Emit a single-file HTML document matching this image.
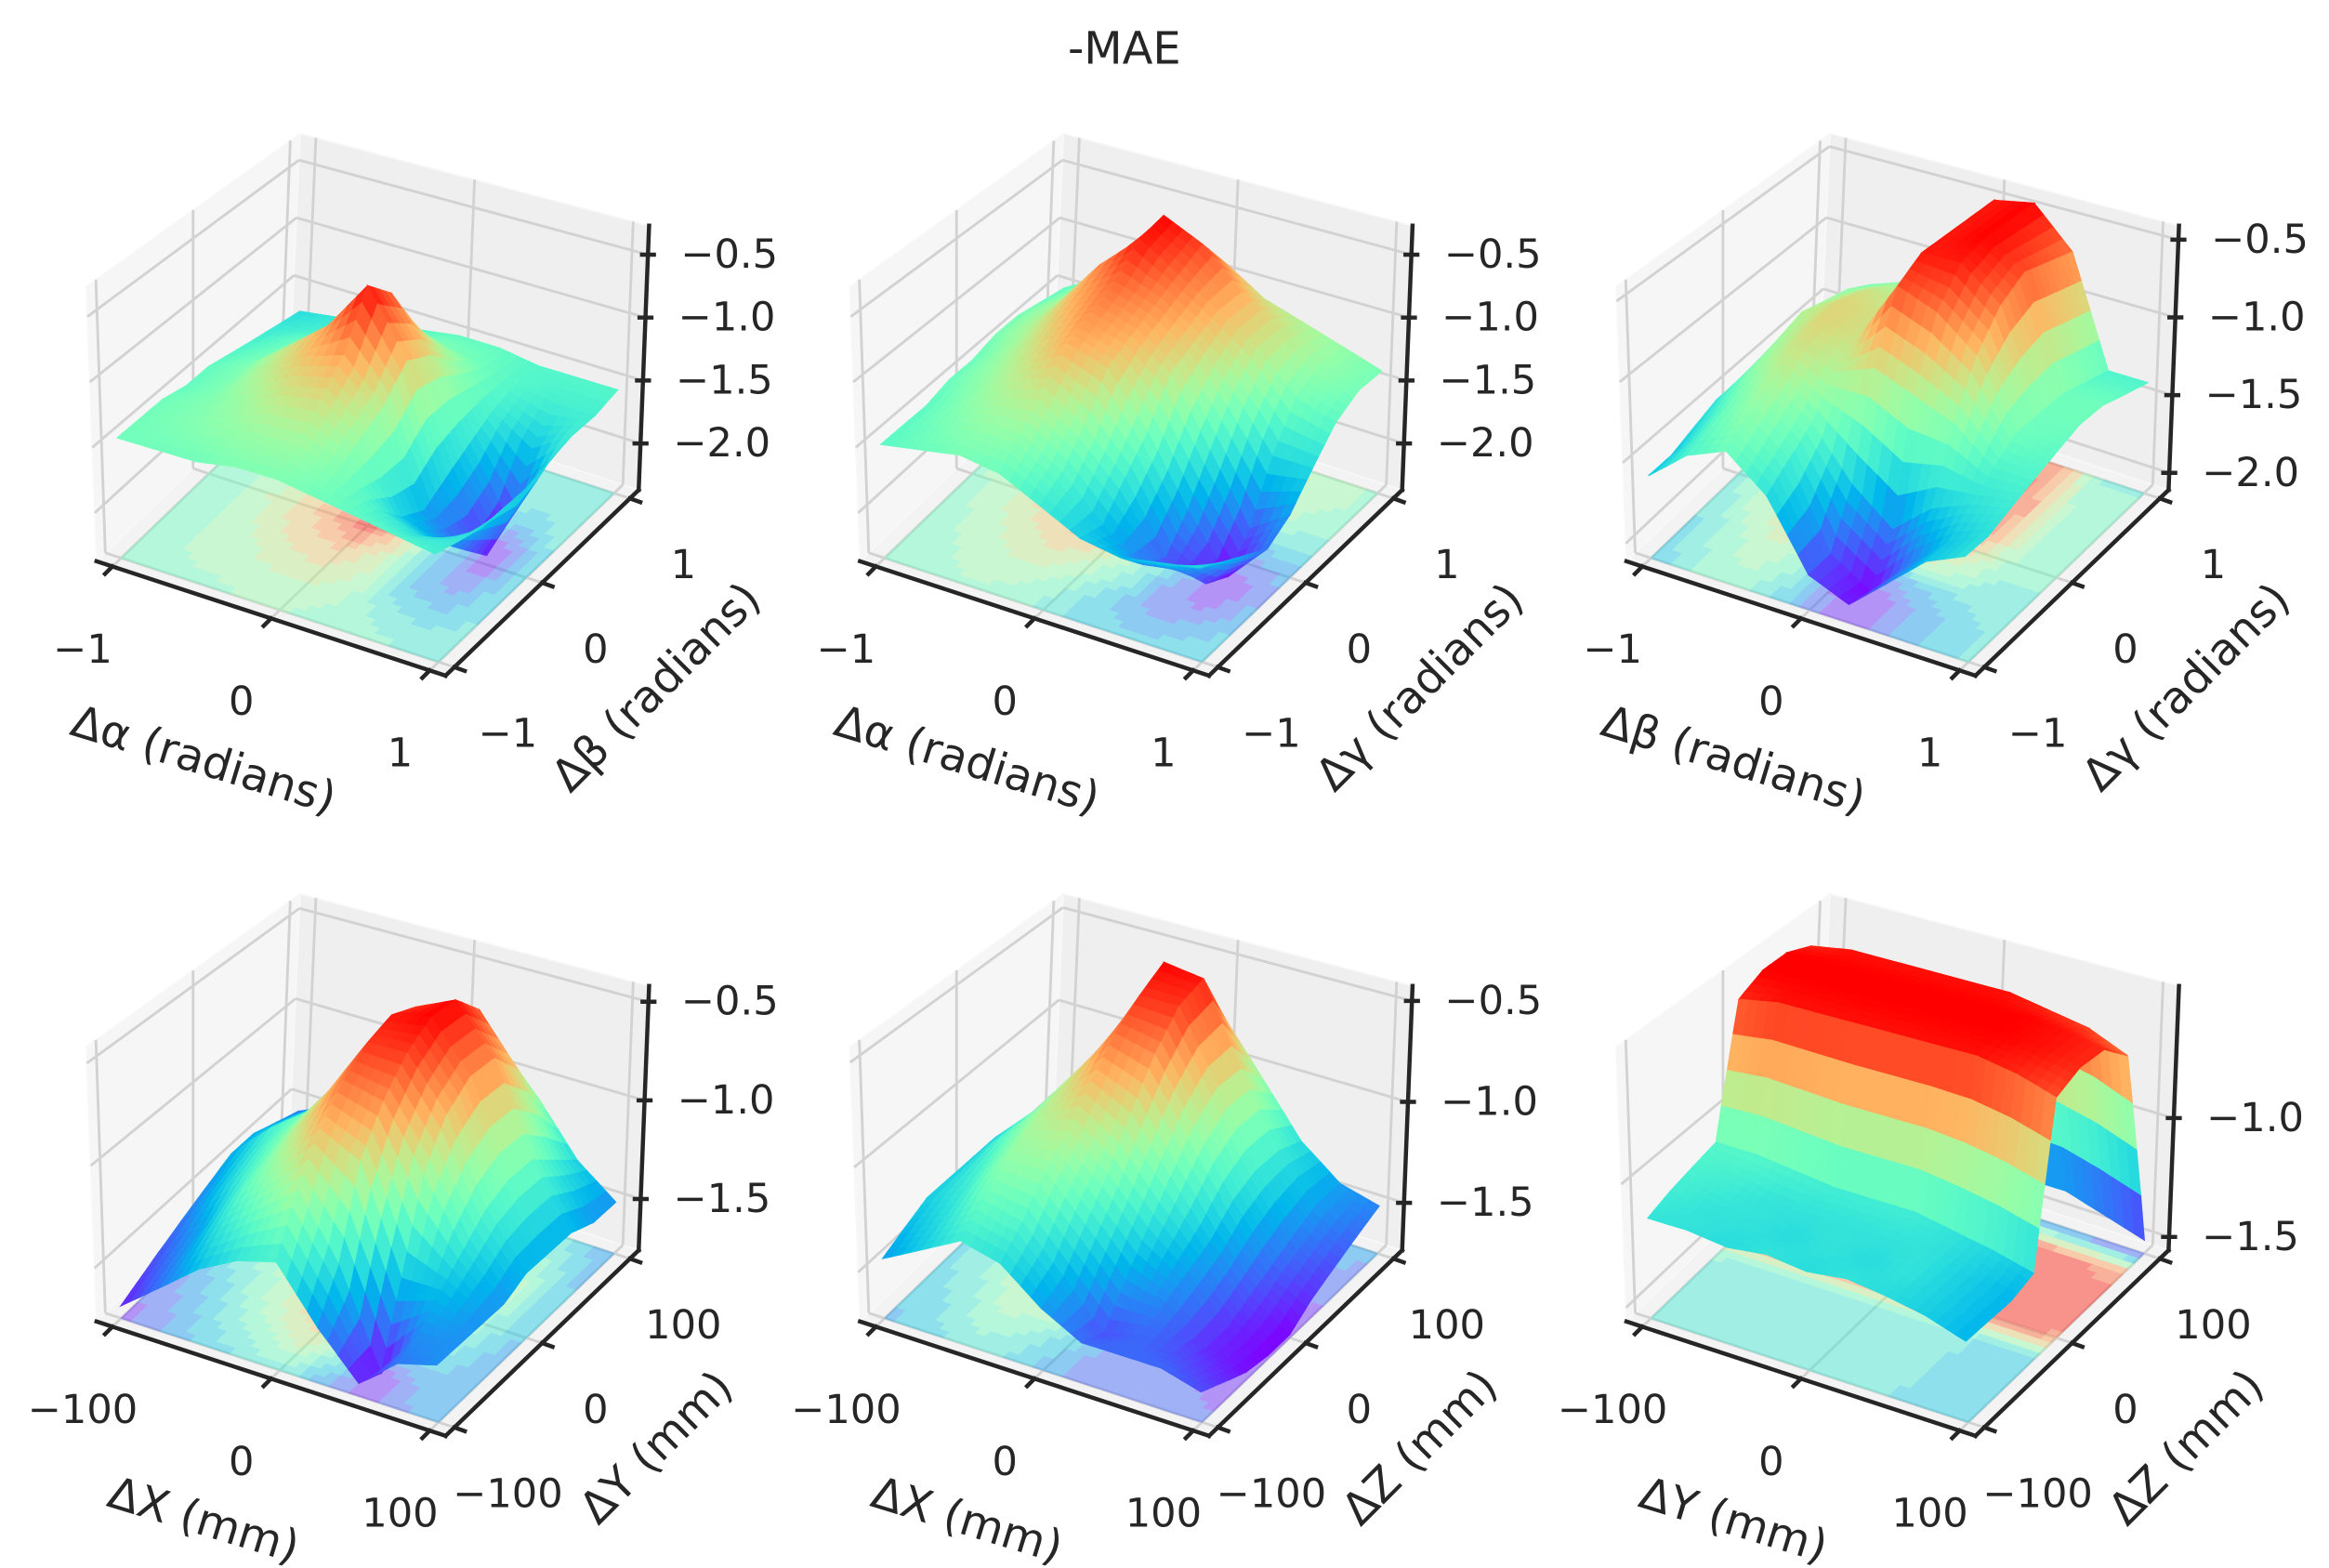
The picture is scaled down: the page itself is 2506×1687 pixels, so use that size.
<!DOCTYPE html>
<html><head><meta charset="utf-8"><title>-MAE surfaces</title>
<style>html,body{margin:0;padding:0;background:#fff;}svg{display:block;}text{font-family:"DejaVu Sans","Liberation Sans",sans-serif;fill:#262626;}</style>
</head><body>
<svg id="fig" xmlns="http://www.w3.org/2000/svg" width="2506" height="1687" viewBox="0 0 1568 1056" preserveAspectRatio="none">
<rect x="0" y="0" width="1568" height="1056" fill="#ffffff"/>
<text x="757" y="43" font-size="30" text-anchor="middle">-MAE</text>
</svg>
<script>
// ---- data ----
const angleTickLabels = ['\u22121','0','1'];
const mmTickLabels = ['\u2212100','0','100'];
const tickVals = [-1, 0, 1];
const zTicksA = [-0.5,-1.0,-1.5,-2.0];
const zTicksB = [-0.5,-1.0,-1.5,-2.0];
const zTicksC = [-0.5,-1.0,-1.5,-2.0];
const zTicksD = [-0.5,-1.0,-1.5];
const zTicksE = [-0.5,-1.0,-1.5];
const zTicksF = [-1.0,-1.5];
const zLimits = [[-2.37,-0.27],[-2.37,-0.27],[-2.11,-0.41],[-1.76,-0.42],[-1.735,-0.426],[-1.556,-0.444]];
const xLabels = ['\u0394\u03b1 (radians)','\u0394\u03b1 (radians)','\u0394\u03b2 (radians)','\u0394X (mm)','\u0394X (mm)','\u0394Y (mm)'];
const yLabels = ['\u0394\u03b2 (radians)','\u0394\u03b3 (radians)','\u0394\u03b3 (radians)','\u0394Y (mm)','\u0394Z (mm)','\u0394Z (mm)'];
// surfaces: rows = y (front→back), cols = x (left→right)
const surfA = [
[-1.45,-1.45,-1.45,-1.4,-1.4,-1.45,-1.5,-1.55,-1.6],
[-1.45,-1.4,-1.35,-1.3,-1.3,-1.4,-1.6,-1.7,-1.65],
[-1.45,-1.4,-1.3,-1.15,-1.1,-1.3,-1.8,-1.9,-1.7],
[-1.5,-1.4,-1.2,-1.0,-0.9,-1.2,-1.9,-2.1,-1.7],
[-1.5,-1.4,-1.15,-0.9,-0.5,-1.0,-1.8,-2.3,-1.7],
[-1.55,-1.45,-1.25,-1.0,-0.7,-1.1,-1.7,-2.2,-1.65],
[-1.6,-1.5,-1.4,-1.25,-1.1,-1.3,-1.6,-1.8,-1.6],
[-1.65,-1.6,-1.55,-1.45,-1.4,-1.45,-1.55,-1.6,-1.6],
[-1.7,-1.65,-1.6,-1.55,-1.5,-1.5,-1.55,-1.55,-1.55]];
const surfB = [
[-1.5,-1.45,-1.4,-1.45,-1.6,-1.75,-1.8,-1.75,-1.7],
[-1.5,-1.4,-1.3,-1.3,-1.5,-1.8,-2.0,-1.95,-1.8],
[-1.5,-1.35,-1.2,-1.1,-1.3,-1.6,-2.1,-2.2,-1.9],
[-1.45,-1.3,-1.1,-0.9,-1.0,-1.4,-1.9,-2.3,-2.0],
[-1.45,-1.25,-1.0,-0.8,-0.9,-1.1,-1.6,-2.1,-1.9],
[-1.4,-1.2,-0.9,-0.7,-0.8,-1.0,-1.3,-1.7,-1.7],
[-1.4,-1.2,-0.8,-0.5,-0.7,-0.9,-1.1,-1.4,-1.5],
[-1.45,-1.25,-0.9,-0.45,-0.6,-0.9,-1.1,-1.3,-1.4],
[-1.5,-1.3,-1.1,-0.8,-0.9,-1.1,-1.2,-1.3,-1.4]];
const surfC = [
[-1.6,-1.4,-1.3,-1.5,-1.9,-2.0,-1.8,-1.6,-1.5],
[-1.6,-1.35,-1.2,-1.4,-1.9,-2.05,-1.8,-1.6,-1.5],
[-1.55,-1.3,-1.1,-1.3,-1.6,-1.8,-1.6,-1.5,-1.45],
[-1.5,-1.2,-1.0,-1.1,-1.0,-1.1,-1.2,-1.4,-1.4],
[-1.5,-1.15,-0.95,-1.0,-0.6,-0.7,-0.9,-1.3,-1.35],
[-1.5,-1.1,-0.95,-1.0,-0.5,-0.5,-0.7,-1.3,-1.3],
[-1.55,-1.15,-1.0,-1.05,-0.5,-0.45,-0.6,-1.3,-1.3],
[-1.6,-1.2,-1.1,-1.1,-0.5,-0.45,-0.65,-1.35,-1.35],
[-1.6,-1.3,-1.2,-1.2,-0.5,-0.45,-0.7,-1.4,-1.4]];
const surfD = [
[-1.7,-1.55,-1.4,-1.3,-1.25,-1.5,-1.7,-1.55,-1.5],
[-1.65,-1.5,-1.3,-1.15,-1.0,-1.3,-1.75,-1.5,-1.5],
[-1.6,-1.45,-1.2,-1.0,-0.8,-0.9,-1.4,-1.4,-1.5],
[-1.55,-1.35,-1.15,-0.9,-0.65,-0.7,-1.0,-1.3,-1.5],
[-1.5,-1.3,-1.1,-0.85,-0.55,-0.55,-0.8,-1.2,-1.45],
[-1.45,-1.25,-1.1,-0.9,-0.5,-0.46,-0.7,-1.15,-1.45],
[-1.45,-1.3,-1.15,-0.95,-0.55,-0.46,-0.7,-1.15,-1.45],
[-1.5,-1.35,-1.25,-1.1,-0.75,-0.6,-0.85,-1.25,-1.5],
[-1.55,-1.45,-1.35,-1.25,-1.0,-0.9,-1.1,-1.35,-1.5]];
const surfE = [
[-1.45,-1.35,-1.25,-1.3,-1.45,-1.55,-1.55,-1.55,-1.6],
[-1.4,-1.3,-1.15,-1.2,-1.4,-1.6,-1.55,-1.6,-1.65],
[-1.35,-1.25,-1.05,-1.05,-1.25,-1.45,-1.5,-1.65,-1.7],
[-1.35,-1.2,-1.0,-0.95,-1.1,-1.3,-1.45,-1.65,-1.72],
[-1.35,-1.15,-0.95,-0.8,-0.9,-1.15,-1.4,-1.6,-1.72],
[-1.35,-1.15,-0.9,-0.65,-0.7,-1.0,-1.3,-1.55,-1.65],
[-1.4,-1.2,-0.9,-0.55,-0.55,-0.9,-1.25,-1.5,-1.6],
[-1.4,-1.2,-0.95,-0.47,-0.5,-0.9,-1.25,-1.45,-1.55],
[-1.45,-1.3,-1.1,-0.8,-0.8,-1.05,-1.3,-1.45,-1.5]];
const surfF = [
[-1.15,-1.15,-1.17,-1.15,-1.17,-1.15,-1.17,-1.2,-1.25],
[-1.12,-1.15,-1.15,-1.17,-1.15,-1.17,-1.15,-1.2,-1.25],
[-1.1,-1.12,-1.15,-1.15,-1.15,-1.15,-1.15,-1.2,-1.25],
[-1.08,-1.08,-1.1,-1.12,-1.12,-1.12,-1.15,-1.18,-1.22],
[-0.55,-0.52,-0.52,-0.52,-0.52,-0.52,-0.52,-0.55,-0.6],
[-0.5,-0.5,-0.5,-0.5,-0.5,-0.5,-0.5,-0.52,-0.55],
[-0.5,-0.5,-0.5,-0.5,-0.5,-0.5,-0.5,-0.52,-0.55],
[-0.55,-0.52,-0.52,-0.52,-0.52,-0.52,-0.55,-0.58,-0.65],
[-1.25,-1.3,-1.3,-1.35,-1.35,-1.4,-1.4,-1.45,-1.5]];

// ---- rendering ----
const NS = 'http://www.w3.org/2000/svg';
const svg = document.getElementById('fig');
const panels = [
 {col:0,row:0,z:surfA,zt:zTicksA,tl:angleTickLabels},
 {col:1,row:0,z:surfB,zt:zTicksB,tl:angleTickLabels},
 {col:2,row:0,z:surfC,zt:zTicksC,tl:angleTickLabels},
 {col:0,row:1,z:surfD,zt:zTicksD,tl:mmTickLabels},
 {col:1,row:1,z:surfE,zt:zTicksE,tl:mmTickLabels},
 {col:2,row:1,z:surfF,zt:zTicksF,tl:mmTickLabels}];
const COLX=[0,514,1030], ROWY=[0,512];
function cmap(t){t=Math.max(0,Math.min(1,t));
 const r=Math.min(1,Math.abs(2*t-0.5)), g=Math.sin(Math.PI*t), b=Math.cos(Math.PI*t/2);
 return 'rgb('+Math.round(r*255)+','+Math.round(g*255)+','+Math.round(b*255)+')';}
function mk(tag, parent){const e=document.createElementNS(NS,tag);parent.appendChild(e);return e;}
function axisN(v){return (v+1.1)/2.2;}

panels.forEach((p,k)=>{
 const ox=65+COLX[p.col], oy=378+ROWY[p.row];
 const [zlo,zhi]=zLimits[k];
 const zn=z=>(z-zlo)/(zhi-zlo);
 function P(x,y,h){
  return [ox + x*235 + y*130 + h*(-7+14*y), oy + x*77 - y*125 - h*(185+15*x-22*y)];}
 const pts=a=>a.map(q=>q[0].toFixed(1)+','+q[1].toFixed(1)).join(' ');
 const g=mk('g',svg);
 
 
 const panes=[[[0,0,0],[1,0,0],[1,1,0],[0,1,0],'#f3f3f3','floor-pane'],
   [[0,0,0],[0,1,0],[0,1,1],[0,0,1],'#f6f6f6','left-pane'],
   [[0,1,0],[1,1,0],[1,1,1],[0,1,1],'#efefef','back-pane']];
 panes.forEach(pn=>{const e=mk('polygon',g);
  
  
  e.setAttribute('points',pts(pn.slice(0,4).map(c=>P(c[0],c[1],c[2]))));
  e.setAttribute('fill',pn[4]);e.setAttribute('stroke','#f8f8f8');e.setAttribute('stroke-width','1');});
 const gl=(a,b)=>{const e=mk('line',g);
  
  
  e.setAttribute('x1',a[0]);e.setAttribute('y1',a[1]);e.setAttribute('x2',b[0]);e.setAttribute('y2',b[1]);
  e.setAttribute('stroke','#d2d2d2');e.setAttribute('stroke-width','1.8');};
 tickVals.forEach(v=>{const t=axisN(v);
  gl(P(t,0,0),P(t,1,0)); gl(P(t,1,0),P(t,1,1));
  gl(P(0,t,0),P(1,t,0)); gl(P(0,t,0),P(0,t,1));});
 p.zt.forEach(v=>{const h=zn(v); gl(P(0,0,h),P(0,1,h)); gl(P(0,1,h),P(1,1,h));});
 const Z=p.z, N=Z.length, S=4, M=(N-1)*S;
 let zmin=Infinity,zmax=-Infinity; Z.forEach(r=>r.forEach(v=>{zmin=Math.min(zmin,v);zmax=Math.max(zmax,v);}));
 const F=[];
 for(let fj=0;fj<=M;fj++){F.push([]);for(let fi=0;fi<=M;fi++){
  const u=fi/S,w=fj/S; const i0=Math.min(N-2,Math.floor(u)), j0=Math.min(N-2,Math.floor(w));
  const a=u-i0,b=w-j0;
  F[fj].push((1-a)*(1-b)*Z[j0][i0]+a*(1-b)*Z[j0][i0+1]+(1-a)*b*Z[j0+1][i0]+a*b*Z[j0+1][i0+1]);}}
 const gx=fi=>axisN(-1+2*fi/M);
 const cells=[];
 for(let fj=0;fj<M;fj++)for(let fi=0;fi<M;fi++){
  const xc=gx(fi+0.5), yc=axisN(-1+2*(fj+0.5)/M);
  cells.push({fi,fj,d:yc*0.866-xc*0.5});}
 cells.sort((a,b)=>b.d-a.d);
 const fg=mk('g',g);
 
 
 fg.setAttribute('opacity','0.45');
 const LV=12;
 cells.forEach(c=>{const {fi,fj}=c;
  const avg=(F[fj][fi]+F[fj][fi+1]+F[fj+1][fi]+F[fj+1][fi+1])/4;
  const lev=Math.min(LV-1,Math.floor((avg-zmin)/(zmax-zmin)*LV));
  const col=cmap((lev+0.5)/LV);
  const e=mk('polygon',fg);
  
  
  const y0=axisN(-1+2*fj/M), y1=axisN(-1+2*(fj+1)/M);
  e.setAttribute('points',pts([P(gx(fi),y0,0),P(gx(fi+1),y0,0),P(gx(fi+1),y1,0),P(gx(fi),y1,0)]));
  e.setAttribute('fill',col);e.setAttribute('stroke',col);e.setAttribute('stroke-width','0.8');});
 const sg=mk('g',g);
 
 
 cells.forEach(c=>{const {fi,fj}=c;
  const avg=(F[fj][fi]+F[fj][fi+1]+F[fj+1][fi]+F[fj+1][fi+1])/4;
  const col=cmap((avg-zmin)/(zmax-zmin));
  const y0=axisN(-1+2*fj/M), y1=axisN(-1+2*(fj+1)/M);
  const e=mk('polygon',sg);
  
  
  e.setAttribute('points',pts([P(gx(fi),y0,zn(F[fj][fi])),P(gx(fi+1),y0,zn(F[fj][fi+1])),P(gx(fi+1),y1,zn(F[fj+1][fi+1])),P(gx(fi),y1,zn(F[fj+1][fi]))]));
  e.setAttribute('fill',col);e.setAttribute('stroke',col);e.setAttribute('stroke-width','0.7');});
 const al=(a,b,name)=>{const e=mk('line',g);
  
  
  e.setAttribute('x1',a[0]);e.setAttribute('y1',a[1]);e.setAttribute('x2',b[0]);e.setAttribute('y2',b[1]);
  e.setAttribute('stroke','#262626');e.setAttribute('stroke-width','2.8');e.setAttribute('stroke-linecap','square');};
 al(P(0,0,0),P(1,0,0),'x-axis-line');
 al(P(1,0,0),P(1,1,0),'y-axis-line');
 al(P(1,1,0),P(1,1,1),'z-axis-line');
 const txt=(s,x,y,anchor,name,size,rot)=>{const e=mk('text',g);
  
  
  e.setAttribute('x',x);e.setAttribute('y',y);e.setAttribute('text-anchor',anchor);
  e.setAttribute('font-size',size);e.setAttribute('dominant-baseline','central');
  if(rot)e.setAttribute('transform','rotate('+rot+' '+x+' '+y+')');
  e.textContent=s;};
 tickVals.forEach((v,i)=>{const t=axisN(v);
  const a=P(t,0,0); al(a,[a[0]-5,a[1]+5],'x-tick');
  txt(p.tl[i],a[0]-20,a[1]+56,'middle','x-tick-label',27);
  const b=P(1,t,0); al(b,[b[0]+7,b[1]+2.5],'y-tick');
  txt(p.tl[i],b[0]+36,b[1]+45,'middle','y-tick-label',27);});
 p.zt.forEach(v=>{const c=P(1,1,zn(v)); al([c[0]-4,c[1]],[c[0]+4,c[1]],'z-tick');
  txt(v.toFixed(1).replace('-','\u2212'),c[0]+22,c[1],'start','z-tick-label',27);});
 txt(xLabels[k],ox+72,oy+134,'middle','x-axis-title',30,17);
 txt(yLabels[k],ox+377,oy+85,'middle','y-axis-title',30,-45);
});
</script>
</body></html>
